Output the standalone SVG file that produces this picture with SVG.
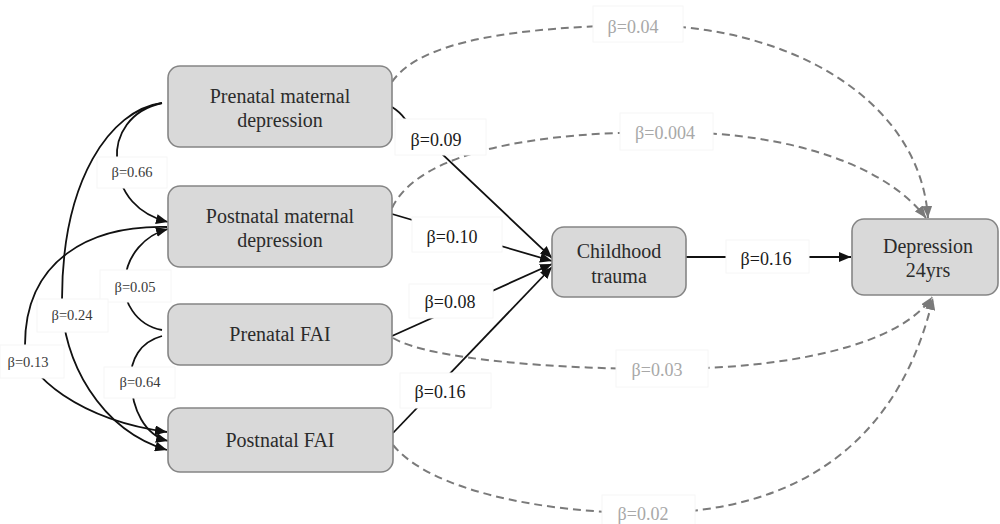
<svg xmlns="http://www.w3.org/2000/svg" width="1000" height="524" viewBox="0 0 1000 524">
<style>
.node{fill:#d9d9d9;stroke:#858585;stroke-width:1.6}
.nt{font-family:"Liberation Serif",serif;font-size:20px;fill:#2b2b2b;text-anchor:middle}
.solid{fill:none;stroke:#111;stroke-width:1.8}
.dash{fill:none;stroke:#7a7a7a;stroke-width:2;stroke-dasharray:8 5}
.lb{fill:#fff;stroke:#f6f6f6;stroke-width:1}
.lt{font-family:"Liberation Serif",serif;font-size:18px;fill:#1a1a1a;text-anchor:middle}
.gt{font-family:"Liberation Serif",serif;font-size:18px;fill:#a8a8a8;text-anchor:middle}
.st{font-family:"Liberation Serif",serif;font-size:14.5px;fill:#3a3a3a;text-anchor:middle}
</style>
<defs>
<marker id="ab" viewBox="0 0 12 10" refX="12" refY="5" markerWidth="12" markerHeight="10" markerUnits="userSpaceOnUse" orient="auto"><path d="M0,0 L12,5 L0,10 z" fill="#111"/></marker>
<marker id="ag" viewBox="0 0 12 10" refX="12" refY="5" markerWidth="12" markerHeight="10" markerUnits="userSpaceOnUse" orient="auto"><path d="M0,0 L12,5 L0,10 z" fill="#7a7a7a"/></marker>
</defs>
<rect width="1000" height="524" fill="#fff"/>
<g id="connectors">
<path class="dash" marker-end="url(#ag)" d="M392,82 C420,40 520,27 640,25 C790,25 920,100 928,218"/>
<path class="dash" marker-end="url(#ag)" d="M392,208 C420,150 540,132 666,132 C800,132 890,170 926,218"/>
<path class="dash" marker-end="url(#ag)" d="M393,338 C430,360 560,369 662,369 C790,369 900,345 932,297"/>
<path class="dash" marker-end="url(#ag)" d="M393,445 C430,490 540,513 648,513 C800,513 900,440 933,298"/>
<path class="solid" marker-end="url(#ab)" d="M392,107 Q400,112 405,119 L552,258"/>
<path class="solid" marker-end="url(#ab)" d="M392,214 L552,261"/>
<path class="solid" marker-end="url(#ab)" d="M392,336 L552,264"/>
<path class="solid" marker-end="url(#ab)" d="M393,433 L552,267"/>
<path class="solid" marker-end="url(#ab)" d="M686,257 L851,257"/>
<path class="solid" marker-end="url(#ab)" d="M162,103 C130,110 115,135 117,160 C118,195 140,215 168,222"/>
<path class="solid" marker-end="url(#ab)" d="M162,103 C110,110 62,180 62,300 C62,360 100,430 167,450"/>
<path class="solid" marker-end="url(#ab)" d="M167,227 C90,225 25,260 25,345 C25,375 80,420 167,432"/>
<path class="solid" marker-end="url(#ab)" d="M162,330 C135,325 122,300 125,280 C127,255 145,235 168,229"/>
<path class="solid" marker-end="url(#ab)" d="M162,336 C140,342 130,360 131,380 C132,410 145,435 168,441"/>
<rect class="lb" x="593" y="6" width="90" height="36"/><text class="gt" x="633" y="33">β=0.04</text>
<rect class="lb" x="620" y="113" width="93" height="37"/><text class="gt" x="665" y="139">β=0.004</text>
<rect class="lb" x="616" y="350" width="92" height="37"/><text class="gt" x="657" y="376">β=0.03</text>
<rect class="lb" x="602" y="495" width="93" height="36"/><text class="gt" x="643" y="520">β=0.02</text>
<rect class="lb" x="395" y="119" width="91" height="36"/><text class="lt" x="436" y="146">β=0.09</text>
<rect class="lb" x="412" y="217" width="90" height="35"/><text class="lt" x="452" y="243">β=0.10</text>
<rect class="lb" x="409" y="284" width="84" height="34"/><text class="lt" x="450" y="308">β=0.08</text>
<rect class="lb" x="400" y="373" width="91" height="35"/><text class="lt" x="440" y="398">β=0.16</text>
<rect class="lb" x="726" y="240" width="83" height="33"/><text class="lt" x="766" y="265">β=0.16</text>
<rect class="lb" x="97" y="157" width="70" height="31"/><text class="st" x="132" y="177">β=0.66</text>
<rect class="lb" x="100" y="270" width="71" height="32"/><text class="st" x="135" y="292">β=0.05</text>
<rect class="lb" x="37" y="299" width="71" height="33"/><text class="st" x="72" y="320">β=0.24</text>
<rect class="lb" x="0" y="345" width="64" height="33"/><text class="st" x="28" y="367">β=0.13</text>
<rect class="lb" x="104" y="367" width="71" height="31"/><text class="st" x="140" y="387">β=0.64</text>
</g>
<g id="prenatal-maternal-depression">
<rect class="node" x="168" y="66" width="224" height="81" rx="12"/>
<text class="nt" x="280" y="103">Prenatal maternal</text>
<text class="nt" x="280" y="127">depression</text>
</g>
<g id="postnatal-maternal-depression">
<rect class="node" x="168" y="186" width="224" height="81" rx="12"/>
<text class="nt" x="280" y="223">Postnatal maternal</text>
<text class="nt" x="280" y="247">depression</text>
</g>
<g id="prenatal-fai">
<rect class="node" x="168" y="304" width="224" height="61" rx="12"/>
<text class="nt" x="280" y="341">Prenatal FAI</text>
</g>
<g id="postnatal-fai">
<rect class="node" x="168" y="408" width="225" height="64" rx="12"/>
<text class="nt" x="280" y="447">Postnatal FAI</text>
</g>
<g id="childhood-trauma">
<rect class="node" x="552" y="227" width="134" height="70" rx="12"/>
<text class="nt" x="619" y="258">Childhood</text>
<text class="nt" x="619" y="283">trauma</text>
</g>
<g id="depression-24yrs">
<rect class="node" x="852" y="219" width="146" height="76" rx="12"/>
<text class="nt" x="928" y="253">Depression</text>
<text class="nt" x="928" y="277">24yrs</text>
</g>
</svg>
